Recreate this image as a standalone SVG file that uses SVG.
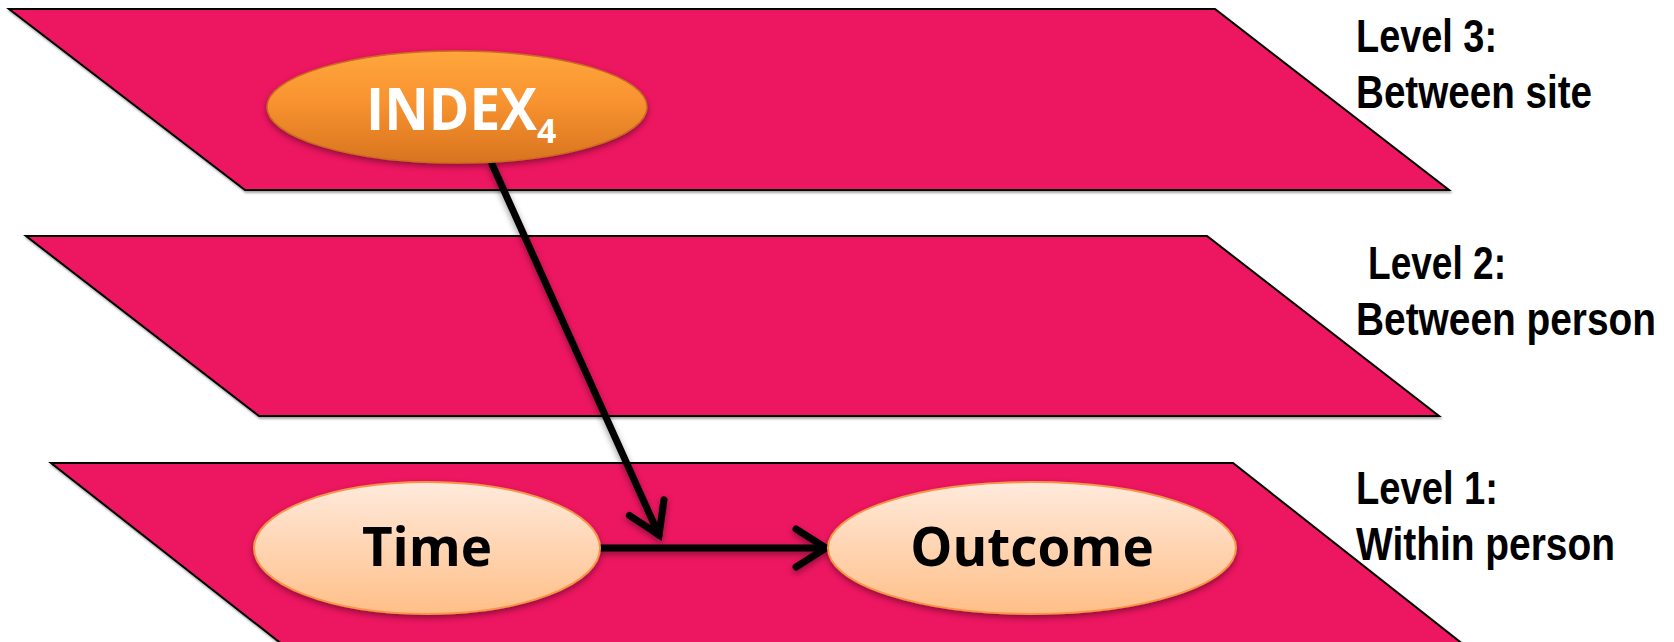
<svg xmlns="http://www.w3.org/2000/svg" width="1674" height="642" viewBox="0 0 1674 642">
<defs>
<style>
.plane{fill:#ED1561;stroke:#000;stroke-width:2;stroke-linejoin:miter}
.lbl{font-family:"Liberation Sans",Arial,sans-serif;font-weight:bold;font-size:47px;fill:#000}
.nodeTxt{font-family:"Open Sans","DejaVu Sans",sans-serif;font-weight:bold;font-size:53px;fill:#000}
.conn{stroke:#000;stroke-width:7;fill:none;stroke-linecap:round}
.light{fill:url(#gLight);stroke:#F79646;stroke-width:2}
</style>
<linearGradient id="gOrange" x1="0" y1="0" x2="0" y2="1">
<stop offset="0" stop-color="#FFA63C"/>
<stop offset="0.45" stop-color="#F89330"/>
<stop offset="1" stop-color="#D8741F"/>
</linearGradient>
<linearGradient id="gLight" x1="0" y1="0" x2="0" y2="1">
<stop offset="0" stop-color="#FFEADC"/>
<stop offset="1" stop-color="#FFBF88"/>
</linearGradient>
<filter id="sh" x="-10%" y="-10%" width="120%" height="130%">
<feDropShadow dx="0" dy="3" stdDeviation="3" flood-color="#000" flood-opacity="0.4"/>
</filter>
<filter id="psh" x="-5%" y="-5%" width="110%" height="115%">
<feDropShadow dx="1" dy="2" stdDeviation="1" flood-color="#000" flood-opacity="0.35"/>
</filter>
<marker id="arr" markerUnits="userSpaceOnUse" viewBox="-40 -25 45 50" refX="0" refY="0" markerWidth="45" markerHeight="50" orient="auto" overflow="visible">
<path d="M-30,-19 L0,0 L-30,19" fill="none" stroke="#000" stroke-width="7" stroke-linecap="round" stroke-linejoin="miter"/>
</marker>
</defs>
<rect width="1674" height="642" fill="#fff"/>
<g id="plane3"><polygon class="plane" filter="url(#psh)" points="9,9 1215,9 1449,190 245,190"/></g>
<g id="plane2"><polygon class="plane" filter="url(#psh)" points="26,236 1207,236 1439,416 259,416"/></g>
<g id="plane1"><polygon class="plane" filter="url(#psh)" points="51,463 1233,463 1464,645 283,645"/></g>
<g id="labels">
<text class="lbl" x="1356" y="52" textLength="141" lengthAdjust="spacingAndGlyphs">Level 3:</text>
<text class="lbl" x="1356" y="108" textLength="236" lengthAdjust="spacingAndGlyphs">Between site</text>
<text class="lbl" x="1368" y="279" textLength="138" lengthAdjust="spacingAndGlyphs">Level 2:</text>
<text class="lbl" x="1356" y="335" textLength="300" lengthAdjust="spacingAndGlyphs">Between person</text>
<text class="lbl" x="1356" y="504" textLength="142" lengthAdjust="spacingAndGlyphs">Level 1:</text>
<text class="lbl" x="1356" y="560" textLength="259" lengthAdjust="spacingAndGlyphs">Within person</text>
</g>
<g id="connectors" filter="url(#sh)">
<line class="conn" x1="492" y1="164" x2="659" y2="535" marker-end="url(#arr)"/>
<line class="conn" x1="600" y1="548" x2="826" y2="548" marker-end="url(#arr)"/>
</g>
<g id="node-index">
<ellipse cx="457" cy="107" rx="190" ry="56" fill="url(#gOrange)" stroke="#C86E1E" stroke-width="1.5" filter="url(#sh)"/>
<text x="366" y="130" font-family="'Open Sans','DejaVu Sans',sans-serif" font-weight="bold" font-size="59" fill="#fff"><tspan textLength="171" lengthAdjust="spacingAndGlyphs">INDEX</tspan><tspan font-size="34" dy="13">4</tspan></text>
</g>
<g id="node-time">
<ellipse class="light" cx="427" cy="548" rx="173" ry="66" filter="url(#sh)"/>
<text class="nodeTxt" x="427" y="566" text-anchor="middle">Time</text>
</g>
<g id="node-outcome">
<ellipse class="light" cx="1032" cy="548" rx="204" ry="66" filter="url(#sh)"/>
<text class="nodeTxt" x="1032" y="566" text-anchor="middle">Outcome</text>
</g>
</svg>
